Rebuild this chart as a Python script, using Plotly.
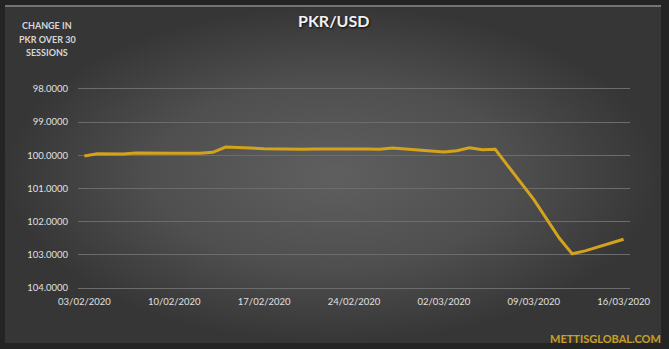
import plotly.graph_objects as go

# ---- data ----
dates = ["2020-02-03", "2020-02-04", "2020-02-06", "2020-02-07",
         "2020-02-10", "2020-02-11", "2020-02-12", "2020-02-13", "2020-02-14",
         "2020-02-17", "2020-02-18", "2020-02-19", "2020-02-20", "2020-02-21",
         "2020-02-24", "2020-02-25", "2020-02-26", "2020-02-27", "2020-02-28",
         "2020-03-02", "2020-03-03", "2020-03-04", "2020-03-05", "2020-03-06",
         "2020-03-09", "2020-03-10", "2020-03-11", "2020-03-12", "2020-03-13",
         "2020-03-16"]
values = [100.02, 99.95, 99.96, 99.93,
          99.94, 99.95, 99.94, 99.91, 99.75,
          99.80, 99.81, 99.83, 99.82, 99.81,
          99.80, 99.81, 99.82, 99.78, 99.81,
          99.90, 99.86, 99.77, 99.83, 99.82,
          101.33, 101.90, 102.50, 102.97, 102.88,
          102.53]
x_tickvals = ["2020-02-03", "2020-02-10", "2020-02-17", "2020-02-24",
              "2020-03-02", "2020-03-09", "2020-03-16"]
x_ticktext = ["03/02/2020", "10/02/2020", "17/02/2020", "24/02/2020",
              "02/03/2020", "09/03/2020", "16/03/2020"]
y_tickvals = [98, 99, 100, 101, 102, 103, 104]
side_label = ["CHANGE IN", "PKR OVER 30", "SESSIONS"]

W, H = 669, 349
FONT = "Lato"
LINE_COLOR = "#d4a31c"
TEXT = "#e0e0e0"

fig = go.Figure()

# background panel (radial gradient)
fig.add_trace(go.Scatter(
    x=[0, 1, 1, 0, 0], y=[0, 0, 1, 1, 0], xaxis="x", yaxis="y",
    mode="lines", line=dict(width=0), fill="toself",
    fillgradient=dict(type="radial",
                      colorscale=[[0, "#5f5f5f"], [0.55, "#4f4f4f"], [1, "#363636"]]),
    hoverinfo="skip", showlegend=False))

# data line
fig.add_trace(go.Scatter(
    x=dates, y=values, xaxis="x2", yaxis="y2", mode="lines",
    line=dict(color=LINE_COLOR, width=3), showlegend=False))

# plot area in pixels (padded so the edge gridlines are drawn)
pad_v = 0.12
px_per_unit = 33.2
px_l, px_r = 78, 630
px_t, px_b = 89 - pad_v * px_per_unit, 288 + pad_v * px_per_unit

annotations = [
    dict(text="<b>PKR/USD</b>", xref="paper", yref="paper",
         x=333 / W, y=1 - 20 / H, xanchor="center", yanchor="middle",
         showarrow=False,
         font=dict(size=16, color="#f2f2f2", family=FONT, shadow="1px 1px 2px #111")),
    dict(text="<b>METTISGLOBAL.COM</b>", xref="paper", yref="paper",
         x=663 / W, y=1 - 338 / H, xanchor="right", yanchor="middle",
         showarrow=False,
         font=dict(size=11, color="#c9a023", family=FONT)),
]
for i, txt in enumerate(side_label):
    annotations.append(dict(
        text=f"<b>{txt}</b>", xref="paper", yref="paper",
        x=47 / W, y=1 - (26 + 13 * i) / H, xanchor="center", yanchor="middle",
        showarrow=False, font=dict(size=9, color="#d6d6d6", family=FONT)))

fig.update_layout(
    width=W, height=H,
    margin=dict(l=0, r=0, t=0, b=0, pad=0, autoexpand=False),
    paper_bgcolor="#242424",
    plot_bgcolor="rgba(0,0,0,0)",
    font=dict(family=FONT, color=TEXT),
    xaxis=dict(domain=[5 / W, 661 / W], range=[0, 1], visible=False,
               fixedrange=True, automargin=False),
    yaxis=dict(domain=[6 / H, 1 - 6 / H], range=[0, 1], visible=False,
               fixedrange=True, automargin=False),
    xaxis2=dict(domain=[px_l / W, px_r / W], anchor="y2", type="date",
                range=["2020-02-02 12:00", "2020-03-16 12:00"],
                tickvals=x_tickvals, ticktext=x_ticktext,
                showgrid=False, zeroline=False, showline=False,
                ticks="", ticklabelstandoff=3,
                automargin=False,
                tickfont=dict(size=9.5, color=TEXT, family=FONT)),
    yaxis2=dict(domain=[1 - px_b / H, 1 - px_t / H], anchor="x2",
                range=[104 + pad_v, 98 - pad_v], tickvals=y_tickvals, tickformat=".4f",
                showgrid=True, gridcolor="#6c6c6c", gridwidth=1,
                zeroline=False, showline=False, ticks="", ticklabelstandoff=9,
                automargin=False,
                tickfont=dict(size=9.5, color=TEXT, family=FONT)),
    shapes=[dict(type="line", xref="paper", yref="paper",
                 x0=5 / W, x1=661 / W, y0=1 - 6 / H, y1=1 - 6 / H,
                 line=dict(color="#737373", width=2))],
    annotations=annotations,
)

fig.write_html("out.html")
